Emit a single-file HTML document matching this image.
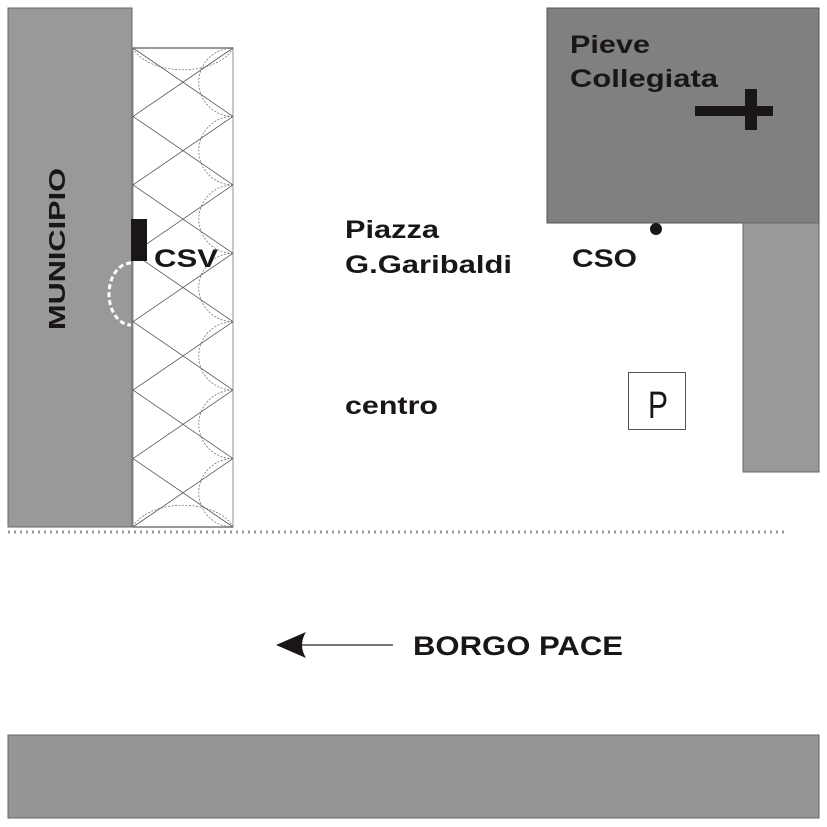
<!DOCTYPE html>
<html><head><style>
html,body{margin:0;padding:0;background:#fff;}
svg{display:block;}
text{font-family:"Liberation Sans",Arial,sans-serif;font-weight:bold;fill:#1a1616;}
</style></head><body>
<svg width="827" height="827" viewBox="0 0 827 827" xmlns="http://www.w3.org/2000/svg">
<rect x="0" y="0" width="827" height="827" fill="#fff"/>
<!-- Municipio -->
<rect x="8" y="8" width="124" height="519" fill="#999" stroke="#666" stroke-width="1"/>
<text transform="translate(65,330) rotate(-90)" font-size="23" textLength="162" lengthAdjust="spacingAndGlyphs">MUNICIPIO</text>
<!-- Arcade -->
<g stroke="#555" stroke-width="0.8" fill="none">
<rect x="133" y="48" width="100" height="479" stroke="#777"/>
<line x1="133" y1="48" x2="233" y2="48" stroke="#999" stroke-width="2"/>
<line x1="133" y1="527" x2="233" y2="527" stroke="#999" stroke-width="2"/>
<path d="M133 48 L233 116.4 M233 48 L133 116.4 M133 116.4 L233 184.9 M233 116.4 L133 184.9 M133 184.9 L233 253.3 M233 184.9 L133 253.3 M133 253.3 L233 321.7 M233 253.3 L133 321.7 M133 321.7 L233 390.1 M233 321.7 L133 390.1 M133 390.1 L233 458.6 M233 390.1 L133 458.6 M133 458.6 L233 527 M233 458.6 L133 527"/>
<g stroke-dasharray="2,1.5" stroke="#777">
<path d="M233 48 A34 34 0 0 0 233 116.4"/>
<path d="M233 116.4 A34 34 0 0 0 233 184.9"/>
<path d="M233 184.9 A34 34 0 0 0 233 253.3"/>
<path d="M233 253.3 A34 34 0 0 0 233 321.7"/>
<path d="M233 321.7 A34 34 0 0 0 233 390.1"/>
<path d="M233 390.1 A34 34 0 0 0 233 458.6"/>
<path d="M233 458.6 A34 34 0 0 0 233 527"/>
<path d="M133 48 A52 30 0 0 0 233 48"/>
<path d="M133 527 A52 30 0 0 1 233 527"/>
</g>
</g>
<rect x="131" y="219" width="16" height="42" fill="#1a1616"/>
<path d="M131 263 A22 31 0 0 0 131 325" fill="none" stroke="#fff" stroke-width="3" stroke-dasharray="5,3"/>
<text x="154" y="267" font-size="25" textLength="64" lengthAdjust="spacingAndGlyphs">CSV</text>
<!-- Church -->
<rect x="547" y="8" width="272" height="215" fill="#808080" stroke="#555" stroke-width="1"/>
<text x="570" y="53" font-size="25" textLength="80" lengthAdjust="spacingAndGlyphs">Pieve</text>
<text x="570" y="87" font-size="25" textLength="148" lengthAdjust="spacingAndGlyphs">Collegiata</text>
<rect x="695" y="106" width="78" height="10" fill="#1a1616"/>
<rect x="745" y="89" width="12" height="41" fill="#1a1616"/>
<circle cx="656" cy="229" r="6" fill="#1a1616"/>
<text x="572" y="267" font-size="25" textLength="65" lengthAdjust="spacingAndGlyphs">CSO</text>
<rect x="743" y="223" width="76" height="249" fill="#999" stroke="#666" stroke-width="1"/>
<!-- Piazza -->
<text x="345" y="238" font-size="25" textLength="94" lengthAdjust="spacingAndGlyphs">Piazza</text>
<text x="345" y="273" font-size="25" textLength="167" lengthAdjust="spacingAndGlyphs">G.Garibaldi</text>
<text x="345" y="414" font-size="25" textLength="93" lengthAdjust="spacingAndGlyphs">centro</text>
<rect x="628.5" y="372.5" width="57" height="57" fill="#fff" stroke="#555" stroke-width="1"/>
<text x="648" y="418" font-size="38" style="font-weight:normal" textLength="20" lengthAdjust="spacingAndGlyphs">P</text>
<!-- dotted line -->
<line x1="8" y1="532" x2="786" y2="532" stroke="#999" stroke-width="3" stroke-dasharray="2,4"/>
<!-- arrow -->
<line x1="300" y1="645" x2="393" y2="645" stroke="#777" stroke-width="2"/>
<path d="M276 645 L306 632 Q298 645 306 658 Z" fill="#1a1616"/>
<text x="413" y="655" font-size="27" textLength="210" lengthAdjust="spacingAndGlyphs">BORGO PACE</text>
<!-- bottom -->
<rect x="8" y="735" width="811" height="83" fill="#969696" stroke="#666" stroke-width="1"/>
</svg>
</body></html>
